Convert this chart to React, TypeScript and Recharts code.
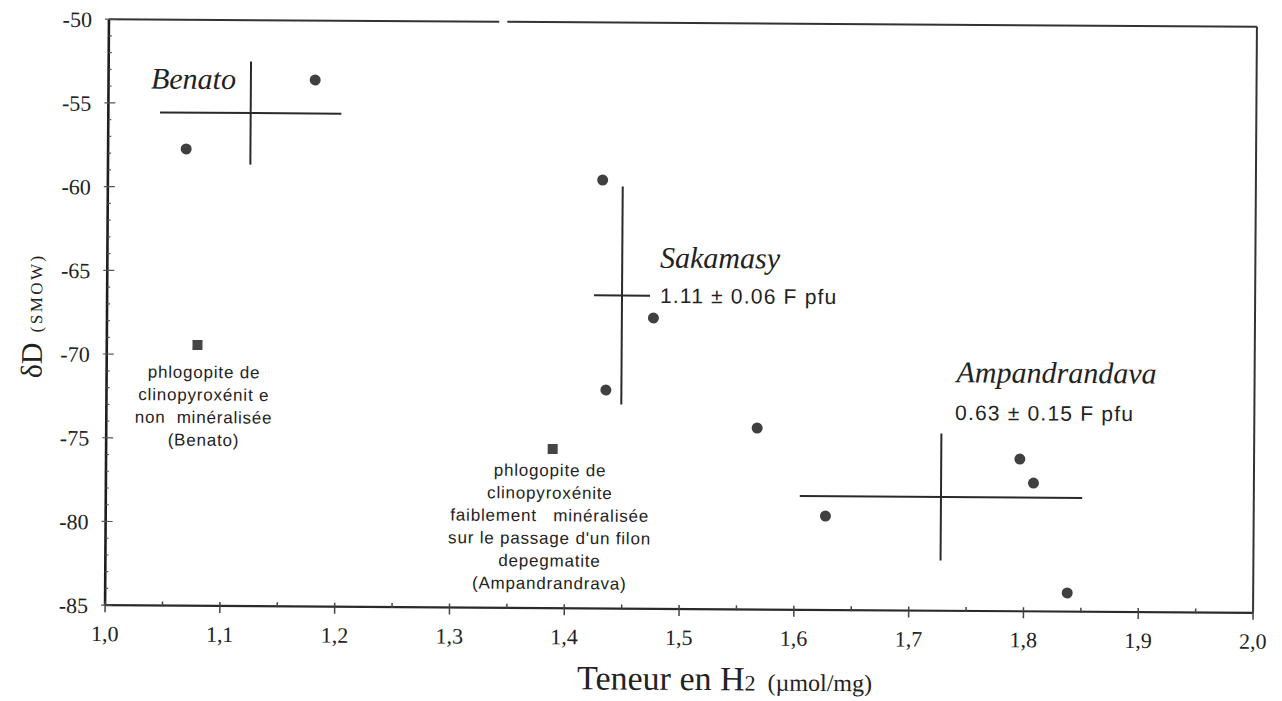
import React from 'react';
import { ScatterChart, Scatter, XAxis, YAxis, ReferenceLine, ErrorBar } from 'recharts';

// ---- data ----
const sampleH2 = [1.068, 1.180, 1.431, 1.476, 1.435, 1.567, 1.627, 1.796, 1.808, 1.838];
const sampleDD = [-57.72, -53.55, -59.41, -67.63, -71.95, -74.16, -79.39, -75.91, -77.34, -83.89];

const refH2 = [1.079, 1.389];
const refDD = [-69.42, -75.49];

const groupNames = ['Benato', 'Sakamasy', 'Ampandrandava'];
const groupMeanH2 = [1.124, 1.4485, 1.7275];
const groupMeanDD = [-55.55, -66.3, -78.21];
const groupErrH2 = [0.079, 0.0244, 0.123];
const groupErrDD = [3.08, 6.51, 3.79];

// group name label anchors (data coords)
const groupLabelH2 = [1.074, 1.5337, 1.8275];
const groupLabelDD = [-54.13, -64.62, -71.35];

const fluorTexts = ['1.11 \u00b1 0.06 F pfu', '0.63 \u00b1 0.15 F pfu'];
const fluorH2 = [1.4816, 1.7393];
const fluorDD = [-66.73, -73.6];

const noteLines1 = ['phlogopite de', 'clinopyrox\u00e9nit e', 'non  min\u00e9ralis\u00e9e', '(Benato)'];
const noteLines2 = [
  'phlogopite de',
  'clinopyrox\u00e9nite',
  'faiblement   min\u00e9ralis\u00e9e',
  "sur le passage d'un filon",
  'depegmatite',
  '(Ampandrandrava)',
];
const noteH2 = [1.0848, 1.3868];
const noteDD = [-71.39, -77.11];

const xMajorTicks = [1.0, 1.1, 1.2, 1.3, 1.4, 1.5, 1.6, 1.7, 1.8, 1.9, 2.0];
const xTickLabels = ['1,0', '1,1', '1,2', '1,3', '1,4', '1,5', '1,6', '1,7', '1,8', '1,9', '2,0'];
const xMinorTicks = [1.05, 1.15, 1.25, 1.35, 1.45, 1.55, 1.65, 1.75, 1.85, 1.95];

const yMajorTicks = [-85, -80, -75, -70, -65, -60, -55, -50];
const yTickLabels = ['-85', '-80', '-75', '-70', '-65', '-60', '-55', '-50'];
const yMinorTicks = [
  -84, -83, -82, -81, -79, -78, -77, -76, -74, -73, -72, -71, -69, -68, -67, -66,
  -64, -63, -62, -61, -59, -58, -57, -56, -54, -53, -52, -51,
];

const topBorderGap = [1.34, 1.347];

// ---- tables built from arrays ----
const samples = sampleH2.map((x, i) => ({ x, y: sampleDD[i] }));
const refs = refH2.map((x, i) => ({ x, y: refDD[i] }));
const groups = groupNames.map((name, i) => ({
  name,
  x: groupMeanH2[i],
  y: groupMeanDD[i],
  ex: groupErrH2[i],
  ey: groupErrDD[i],
}));
const groupLabels = groupNames.map((name, i) => ({ x: groupLabelH2[i], y: groupLabelDD[i], text: name }));
const fluorLabels = fluorTexts.map((text, i) => ({ x: fluorH2[i], y: fluorDD[i], text }));
const notes = [noteLines1, noteLines2].map((lines, i) => ({ x: noteH2[i], y: noteDD[i], lines }));

const xTicks = [...xMajorTicks, ...xMinorTicks].sort((a, b) => a - b);
const yTicks = [...yMajorTicks, ...yMinorTicks].sort((a, b) => a - b);

const SERIF = "'Liberation Serif', 'Times New Roman', serif";
const SANS = "'Liberation Sans', Arial, sans-serif";
const INK = '#2a2a2a';

const XTick = (props: any) => {
  const { x, y, payload } = props;
  const v = payload.value;
  const idx = xMajorTicks.findIndex((t) => Math.abs(t - v) < 1e-6);
  const major = idx >= 0;
  return (
    <g>
      <line x1={x} x2={x} y1={y - 4} y2={major ? y + 7 : y + 1} stroke="#444" strokeWidth={1.5} />
      {major && (
        <text x={x} y={y + 36} textAnchor="middle" fontFamily={SERIF} fontSize={22} fill="#222">
          {xTickLabels[idx]}
        </text>
      )}
    </g>
  );
};

const YTick = (props: any) => {
  const { x, y, payload } = props;
  const v = payload.value;
  const idx = yMajorTicks.findIndex((t) => Math.abs(t - v) < 1e-6);
  const major = idx >= 0;
  return (
    <g>
      <line x1={major ? x - 4 : x} x2={major ? x + 7 : x + 3} y1={y} y2={y} stroke="#555" strokeWidth={1.2} />
      {major && (
        <text x={x - 17} y={y + 8} textAnchor="end" fontFamily={SERIF} fontSize={22} fill="#222">
          {yTickLabels[idx]}
        </text>
      )}
    </g>
  );
};

const XLabel = (props: any) => {
  const vb = props.viewBox || { x: 0, y: 0, width: 0, height: 0 };
  const cx = vb.x + vb.width / 2 + 46;
  const by = vb.y + 81;
  return (
    <text x={cx} y={by} textAnchor="middle" fontFamily={SERIF} fill="#222">
      <tspan fontSize={34}>Teneur en H</tspan>
      <tspan fontSize={22}>2</tspan>
      <tspan fontSize={24} dx={12}>({'\u00b5'}mol/mg)</tspan>
    </text>
  );
};

const YLabel = (props: any) => {
  const vb = props.viewBox || { x: 0, y: 0, width: 0, height: 0 };
  const x = vb.x + 34;
  const y = vb.y + vb.height / 2 + 4;
  return (
    <text
      x={x}
      y={y}
      textAnchor="middle"
      transform={`rotate(-90, ${x}, ${y})`}
      fontFamily={SERIF}
      fill="#222"
    >
      <tspan fontSize={30}>{'\u03b4'}D</tspan>
      <tspan fontSize={17} dx={10} letterSpacing={2.5}>(SMOW)</tspan>
    </text>
  );
};

const CircleDot = (p: any) => <circle cx={p.cx} cy={p.cy} r={5.5} fill="#404040" />;
const SquareDot = (p: any) => <rect x={p.cx - 5} y={p.cy - 5} width={10} height={10} fill="#454545" />;
const NoDot = () => <g />;

const GroupLabel = (p: any) => (
  <text
    x={p.cx}
    y={p.cy}
    textAnchor="middle"
    fontFamily={SERIF}
    fontStyle="italic"
    fontSize={30}
    fill="#222"
  >
    {p.payload.text}
  </text>
);

const FluorLabel = (p: any) => (
  <text x={p.cx} y={p.cy} textAnchor="start" fontFamily={SANS} fontSize={21} letterSpacing={1.2} fill="#222">
    {p.payload.text}
  </text>
);

const NoteLabel = (p: any) => (
  <text
    x={p.cx}
    y={p.cy}
    textAnchor="middle"
    fontFamily={SANS}
    fontSize={17}
    letterSpacing={0.8}
    fill="#222"
    style={{ whiteSpace: 'pre' }}
  >
    {p.payload.lines.map((l: string, i: number) => (
      <tspan key={i} x={p.cx} dy={i === 0 ? 0 : 22.6}>
        {l}
      </tspan>
    ))}
  </text>
);

export default function App() {
  return (
    <div
      style={{
        width: 1266,
        height: 693,
        transform: 'rotate(0.38deg)',
        transformOrigin: '673px 308px',
        background: '#fff',
      }}
    >
      <ScatterChart width={1266} height={693} margin={{ top: 15, right: 19, left: 0, bottom: 0 }}>
        <XAxis
          type="number"
          dataKey="x"
          domain={[1, 2]}
          allowDataOverflow
          ticks={xTicks}
          interval={0}
          tickSize={0}
          tickMargin={0}
          tickLine={false}
          tick={<XTick />}
          axisLine={{ stroke: INK, strokeWidth: 2.2 }}
          height={92}
          label={<XLabel />}
        />
        <YAxis
          type="number"
          dataKey="y"
          domain={[-85, -50]}
          allowDataOverflow
          ticks={yTicks}
          interval={0}
          tickSize={0}
          tickMargin={0}
          tickLine={false}
          tick={<YTick />}
          axisLine={{ stroke: '#1e1e1e', strokeWidth: 2.6 }}
          width={99}
          label={<YLabel />}
        />
        <ReferenceLine
          segment={[
            { x: 1, y: -50 },
            { x: topBorderGap[0], y: -50 },
          ]}
          stroke="#333"
          strokeWidth={2}
        />
        <ReferenceLine
          segment={[
            { x: topBorderGap[1], y: -50 },
            { x: 2, y: -50 },
          ]}
          stroke="#333"
          strokeWidth={2}
        />
        <ReferenceLine x={2} stroke="#333" strokeWidth={2} />

        <Scatter data={groups} shape={<NoDot />} isAnimationActive={false}>
          <ErrorBar dataKey="ex" direction="x" width={0} stroke="#2a2a2a" strokeWidth={2} />
          <ErrorBar dataKey="ey" direction="y" width={0} stroke="#2a2a2a" strokeWidth={2} />
        </Scatter>
        <Scatter data={samples} shape={<CircleDot />} isAnimationActive={false} />
        <Scatter data={refs} shape={<SquareDot />} isAnimationActive={false} />
        <Scatter data={groupLabels} shape={<GroupLabel />} isAnimationActive={false} />
        <Scatter data={fluorLabels} shape={<FluorLabel />} isAnimationActive={false} />
        <Scatter data={notes} shape={<NoteLabel />} isAnimationActive={false} />
      </ScatterChart>
    </div>
  );
}
